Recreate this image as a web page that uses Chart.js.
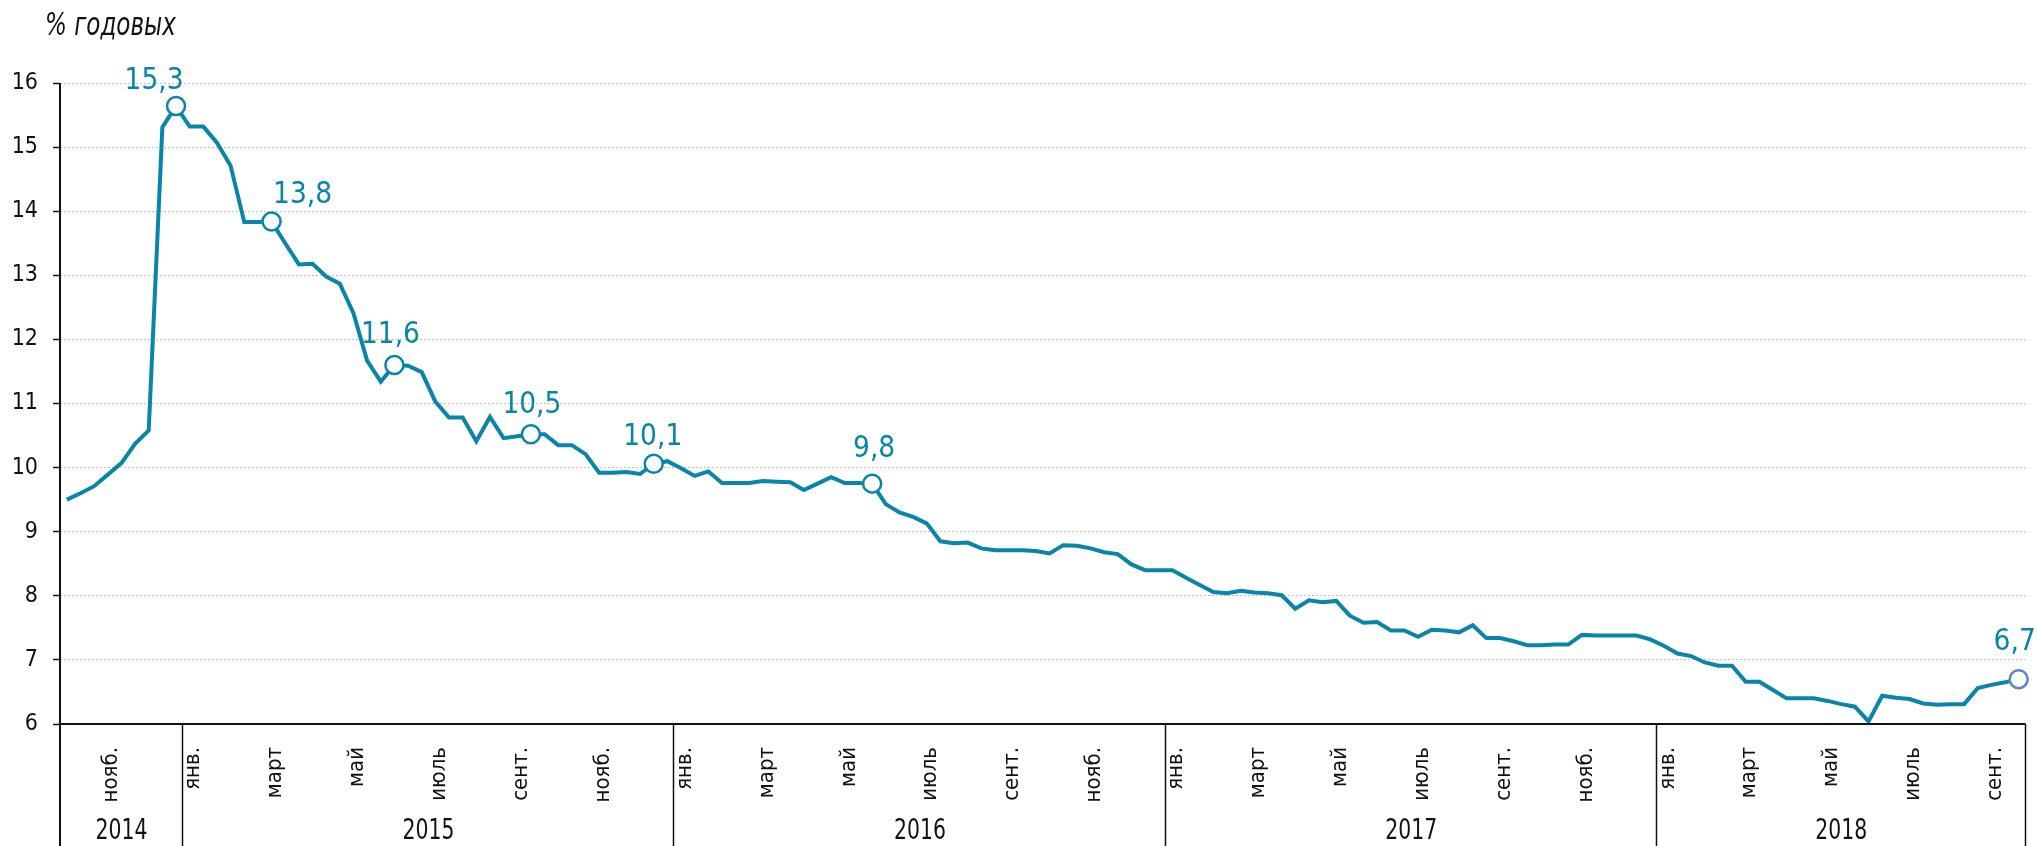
<!DOCTYPE html>
<html>
<head>
<meta charset="utf-8">
<script src="https://cdn.jsdelivr.net/npm/chart.js@4"></script>
<style>
    html, body { margin: 0; padding: 0; background: #fff; }
    #wrap { width: 2037px; height: 846px; position: relative; }
</style>
</head>
<body>
<div id="wrap"><canvas id="rateChart"></canvas></div>
<script>
// Dekads (10-day periods), first one is Oct I 2014
const startYear = 2014;
const startMonth = 10;
const monthNames = ['янв.', 'февр.', 'март', 'апр.', 'май', 'июнь', 'июль', 'авг.', 'сент.', 'окт.', 'нояб.', 'дек.'];
const shownMonths = [1, 3, 5, 7, 9, 11];

// % per annum, one value per dekad
const rates = [
    9.50, 9.60, 9.71, 9.89, 10.07, 10.37, 10.58, 15.31, 15.64,
    15.32, 15.32, 15.07, 14.71, 13.83, 13.83, 13.84, 13.50, 13.17, 13.18, 12.98, 12.87,
    12.41, 11.67, 11.34, 11.60, 11.59, 11.49, 11.03, 10.78, 10.78, 10.41, 10.79, 10.46,
    10.49, 10.52, 10.52, 10.35, 10.35, 10.21, 9.92, 9.92, 9.93, 9.90, 10.06, 10.10,
    9.99, 9.87, 9.94, 9.76, 9.76, 9.76, 9.79, 9.78, 9.77, 9.65, 9.75, 9.85,
    9.76, 9.76, 9.75, 9.43, 9.30, 9.23, 9.13, 8.85, 8.82, 8.83, 8.74, 8.71,
    8.71, 8.71, 8.70, 8.66, 8.79, 8.78, 8.74, 8.68, 8.65, 8.49, 8.40, 8.40,
    8.40, 8.28, 8.17, 8.06, 8.04, 8.08, 8.05, 8.04, 8.01, 7.80, 7.93, 7.90,
    7.92, 7.69, 7.58, 7.59, 7.46, 7.46, 7.36, 7.47, 7.46, 7.43, 7.54, 7.34,
    7.34, 7.29, 7.23, 7.23, 7.24, 7.24, 7.39, 7.38, 7.38, 7.38, 7.38, 7.32,
    7.22, 7.10, 7.06, 6.96, 6.91, 6.91, 6.66, 6.66, 6.53, 6.40, 6.40, 6.40,
    6.36, 6.31, 6.27, 6.04, 6.44, 6.41, 6.39, 6.32, 6.30, 6.31, 6.31, 6.56,
    6.61, 6.65, 6.70
];

// highlighted points and their captions
const markedPoints = [8, 15, 24, 34, 43, 59, 143];
const markedLabels = ['15,3', '13,8', '11,6', '10,5', '10,1', '9,8', '6,7'];

const yMin = 6;
const yMax = 16;

const categories = rates.map((v, k) => {
    const m = startMonth - 1 + Math.floor(k / 3);
    return { year: startYear + Math.floor(m / 12), month: (m % 12) + 1, dekad: (k % 3) + 1 };
});
const catLabels = categories.map(c => `${c.year}-${c.month}-${c.dekad}`);

const TEAL = '#0885A8';
const FONT = "'DejaVu Sans Condensed', 'DejaVu Sans', sans-serif";

// caption offsets from the marker centre (px)
const labelOffsets = [[-22, -28], [31, -29], [-4, -33], [1, -32], [-1, -30], [2, -38], [-4, -40]];

// no narrow font installed: squeeze text horizontally
function narrowText(ctx, text, x, y, sx) {
    ctx.save();
    ctx.translate(x, y);
    ctx.scale(sx, 1);
    ctx.fillText(text, 0, 0);
    ctx.restore();
}

const framePlugin = {
    id: 'frame',
    afterDraw(chart) {
        const { ctx, chartArea, scales: { x } } = chart;
        const half = (x.getPixelForValue(1) - x.getPixelForValue(0)) / 2;
        const bottom = chart.height;
        ctx.save();

        // axes
        ctx.strokeStyle = '#111';
        ctx.lineWidth = 2;
        ctx.beginPath();
        ctx.moveTo(chartArea.left, chartArea.top);
        ctx.lineTo(chartArea.left, bottom);
        ctx.moveTo(chartArea.left, chartArea.bottom);
        ctx.lineTo(chartArea.right, chartArea.bottom);
        ctx.stroke();

        // year boxes
        const starts = [];
        categories.forEach((c, i) => {
            if (i === 0 || (c.month === 1 && c.dekad === 1)) starts.push(i);
        });
        starts.push(categories.length);
        const edge = i => i < categories.length ? x.getPixelForValue(i) - half : x.getPixelForValue(i - 1) + half;

        ctx.lineWidth = 1.5;
        ctx.beginPath();
        starts.slice(1).forEach(i => {
            const px = Math.round(edge(i)) - 0.5;
            ctx.moveTo(px, chartArea.bottom);
            ctx.lineTo(px, bottom);
        });
        ctx.stroke();

        ctx.fillStyle = '#111';
        ctx.font = `28px ${FONT}`;
        ctx.textAlign = 'center';
        ctx.textBaseline = 'alphabetic';
        for (let s = 0; s < starts.length - 1; s++) {
            const mid = (edge(starts[s]) + edge(starts[s + 1])) / 2;
            narrowText(ctx, String(categories[starts[s]].year), mid, 839, 0.81);
        }

        // unit caption
        ctx.textAlign = 'left';
        ctx.font = `italic 32px ${FONT}`;
        narrowText(ctx, '% годовых', 45, 35, 0.8);

        // point captions
        const meta = chart.getDatasetMeta(0);
        ctx.fillStyle = TEAL;
        ctx.font = `31px ${FONT}`;
        ctx.textAlign = 'center';
        markedPoints.forEach((idx, n) => {
            const pt = meta.data[idx];
            narrowText(ctx, markedLabels[n], pt.x + labelOffsets[n][0], pt.y + labelOffsets[n][1] + 11, 0.95);
        });
        ctx.restore();
    }
};

const ctx = document.getElementById('rateChart');
new Chart(ctx, {
    type: 'line',
    data: {
        labels: catLabels,
        datasets: [{
            data: rates,
            borderColor: TEAL,
            borderWidth: 4,
            tension: 0,
            pointRadius: c => markedPoints.includes(c.dataIndex) ? 9 : 0,
            pointHoverRadius: 0,
            pointBackgroundColor: '#fff',
            pointBorderColor: c => c.dataIndex === rates.length - 1 ? '#5B86C8' : TEAL,
            pointBorderWidth: 2.5
        }]
    },
    options: {
        responsive: true,
        maintainAspectRatio: false,
        animation: false,
        layout: { padding: { top: 83, right: 8, left: 0, bottom: 0 } },
        plugins: {
            legend: { display: false },
            tooltip: { enabled: false }
        },
        scales: {
            x: {
                type: 'category',
                offset: true,
                grid: { display: false, drawTicks: false },
                border: { display: false },
                afterFit: scale => {
                    scale.height = 122;
                    scale.paddingLeft = 0;
                    scale.paddingRight = 0;
                },
                ticks: {
                    autoSkip: false,
                    minRotation: 90,
                    maxRotation: 90,
                    padding: 23,
                    labelOffset: 4,
                    color: '#111',
                    font: { family: FONT, size: 22 },
                    callback: (value, index) => {
                        const c = categories[index];
                        if (c.dekad === 1 && shownMonths.includes(c.month)) return monthNames[c.month - 1];
                        return '';
                    }
                }
            },
            y: {
                min: yMin,
                max: yMax,
                afterFit: scale => { scale.width = 60; },
                grid: {
                    color: '#c4c4c4',
                    lineWidth: 1,
                    tickColor: '#111',
                    tickLength: 7,
                    tickWidth: 1.5,
                    tickBorderDash: []
                },
                border: { display: false, dash: [2, 2] },
                ticks: {
                    stepSize: 1,
                    padding: 15,
                    color: '#111',
                    font: { family: FONT, size: 23 }
                }
            }
        }
    },
    plugins: [framePlugin]
});
</script>
</body>
</html>
